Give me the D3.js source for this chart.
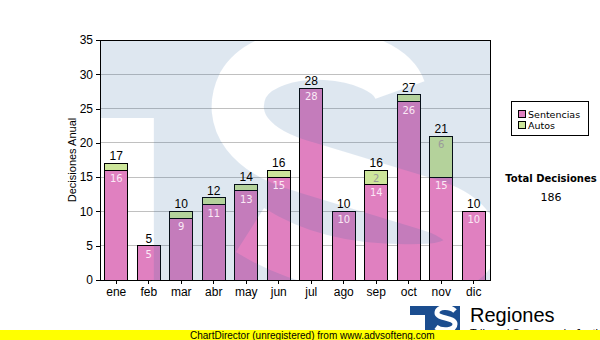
<!DOCTYPE html>
<html>
<head>
<meta charset="utf-8">
<script src="https://cdn.jsdelivr.net/npm/d3@7"></script>
<style>
  html, body { margin: 0; padding: 0; background: #fff; }
  svg { display: block; }
</style>
</head>
<body>
<svg id="chart" width="600" height="340"></svg>
<script>
// Monthly decisions, stacked: sentencias + autos
const months = ["ene", "feb", "mar", "abr", "may", "jun", "jul", "ago", "sep", "oct", "nov", "dic"];
const sentencias = [16, 5, 9, 11, 13, 15, 28, 10, 14, 26, 15, 10];
const autos = [1, 0, 1, 1, 1, 1, 0, 0, 2, 1, 6, 0];
const seriesNames = ["Sentencias", "Autos"];
const yTicks = [0, 5, 10, 15, 20, 25, 30, 35];

const colors = { Sentencias: "#e080c0", Autos: "#cde69a" };
const font = "'Liberation Sans', Arial, sans-serif";
const fontV = "'DejaVu Sans', Verdana, sans-serif";

const svg = d3.select("#chart");
const plot = { left: 100, top: 40, right: 490, bottom: 280 };
const pw = plot.right - plot.left, ph = plot.bottom - plot.top;

const x = d3.scaleBand().domain(months).range([plot.left, plot.right]).paddingInner(0.28).paddingOuter(0.14);
const y = d3.scaleLinear().domain([0, 35]).range([plot.bottom, plot.top]);

const rows = months.map((m, i) => ({ month: m, Sentencias: sentencias[i], Autos: autos[i] }));
const stacked = d3.stack().keys(seriesNames)(rows);
const totals = months.map((m, i) => sentencias[i] + autos[i]);

// plot background
svg.append("rect").attr("x", plot.left).attr("y", plot.top).attr("width", pw).attr("height", ph).attr("fill", "#fff");

// grid lines
svg.append("g").selectAll("line").data(yTicks.filter(t => t > 0)).join("line")
  .attr("x1", plot.left).attr("x2", plot.right)
  .attr("y1", d => y(d)).attr("y2", d => y(d))
  .attr("stroke", "#c0c0c0").attr("stroke-width", 1).attr("shape-rendering", "crispEdges");

// bars
const barG = svg.append("g");
stacked.forEach(layer => {
  barG.append("g").selectAll("rect").data(layer).join("rect")
    .attr("x", d => x(d.data.month))
    .attr("width", x.bandwidth())
    .attr("y", d => y(d[1]))
    .attr("height", d => y(d[0]) - y(d[1]))
    .attr("fill", colors[layer.key])
    .attr("stroke", "#000").attr("stroke-width", 1)
    .attr("shape-rendering", "crispEdges")
    .style("display", d => (d[1] - d[0]) > 0 ? null : "none");
});

// logo watermark over the plot area (translucent blue with the letters left clear)
const defs = svg.append("defs");
const mask = defs.append("mask").attr("id", "wm");
mask.append("rect").attr("x", plot.left).attr("y", plot.top).attr("width", pw).attr("height", ph).attr("fill", "#fff");
const wmG = mask.append("g").attr("transform", `translate(${plot.left},${plot.top})`);
wmG.append("rect").attr("x", 0).attr("y", ph * 0.325).attr("width", pw * 0.138).attr("height", ph).attr("fill", "#000");
wmG.append("path")
  .attr("d", "M300 50 C285 8,170 -2,143 45 C126 80,150 112,205 127 L330 165 C392 184,384 230,320 230 C262 232,200 222,150 190")
  .attr("fill", "none").attr("stroke", "#000").attr("stroke-width", 52);
svg.append("rect").attr("x", plot.left).attr("y", plot.top).attr("width", pw).attr("height", ph)
  .attr("fill", "#2a66a2").attr("opacity", 0.15).attr("mask", "url(#wm)");

// labels inside the segments
stacked.forEach(layer => {
  svg.append("g").selectAll("text").data(layer.filter(d => (y(d[0]) - y(d[1])) >= 12)).join("text")
    .attr("x", d => x(d.data.month) + x.bandwidth() / 2)
    .attr("y", d => y(d[1]) + 12)
    .attr("text-anchor", "middle")
    .attr("font-family", fontV).attr("font-size", 10)
    .attr("fill", layer.key === "Sentencias" ? "#fbeaf6" : "#9a9a9a")
    .text(d => d[1] - d[0]);
});

// totals above bars
svg.append("g").selectAll("text").data(months).join("text")
  .attr("x", m => x(m) + x.bandwidth() / 2)
  .attr("y", (m, i) => y(totals[i]) - 3)
  .attr("text-anchor", "middle")
  .attr("font-family", font).attr("font-size", 12).attr("fill", "#000")
  .text((m, i) => totals[i]);

// plot frame
svg.append("rect").attr("x", plot.left).attr("y", plot.top).attr("width", pw).attr("height", ph)
  .attr("fill", "none").attr("stroke", "#000").attr("stroke-width", 1).attr("shape-rendering", "crispEdges");

// axes
const yAxis = d3.axisLeft(y).tickValues(yTicks).tickSize(4).tickPadding(3);
const gy = svg.append("g").attr("transform", `translate(${plot.left},0)`).call(yAxis);
gy.selectAll("text").attr("font-family", font).attr("font-size", 12).attr("fill", "#000");
gy.selectAll("line,path").attr("stroke", "#000").attr("shape-rendering", "crispEdges");

const xAxis = d3.axisBottom(x).tickSize(4).tickPadding(3).tickSizeOuter(0);
const gx = svg.append("g").attr("transform", `translate(0,${plot.bottom})`).call(xAxis);
gx.selectAll("text").attr("font-family", font).attr("font-size", 12).attr("fill", "#000");
gx.selectAll("line,path").attr("stroke", "#000").attr("shape-rendering", "crispEdges");

// y axis title
svg.append("text")
  .attr("transform", `translate(76,${(plot.top + plot.bottom) / 2}) rotate(-90)`)
  .attr("text-anchor", "middle")
  .attr("font-family", font).attr("font-size", 11).attr("fill", "#000")
  .text("Decisiones Anual");

// legend
const lg = svg.append("g");
lg.append("rect").attr("x", 511.5).attr("y", 101.5).attr("width", 77).attr("height", 34)
  .attr("fill", "#fff").attr("stroke", "#000");
seriesNames.forEach((name, i) => {
  lg.append("rect").attr("x", 518.5).attr("y", 110.5 + i * 11).attr("width", 7).attr("height", 7)
    .attr("fill", colors[name]).attr("stroke", "#000");
  lg.append("text").attr("x", 528).attr("y", 118 + i * 11)
    .attr("font-family", fontV).attr("font-size", 9.5).attr("fill", "#000").text(name);
});

// overall total
svg.append("text").attr("x", 551).attr("y", 182).attr("text-anchor", "middle")
  .attr("font-family", fontV).attr("font-size", 10).attr("font-weight", "bold").attr("fill", "#000")
  .text("Total Decisiones");
svg.append("text").attr("x", 551).attr("y", 201).attr("text-anchor", "middle")
  .attr("font-family", fontV).attr("font-size", 11).attr("fill", "#000")
  .text(d3.sum(totals));

// footer logo
const logo = svg.append("g");
logo.append("rect").attr("x", 410).attr("y", 306).attr("width", 50).attr("height", 24).attr("fill", "#1b4d8f");
logo.append("rect").attr("x", 410).attr("y", 315).attr("width", 15).attr("height", 15).attr("fill", "#fff");
logo.append("path").attr("d", "M455 311 C450 306,437 306,437 313 C437 319,455 317,455 324 C455 331,441 331,436 327")
  .attr("fill", "none").attr("stroke", "#fff").attr("stroke-width", 5);
logo.append("text").attr("x", 470).attr("y", 322)
  .attr("font-family", font).attr("font-size", 20).attr("fill", "#000").text("Regiones");
defs.append("clipPath").attr("id", "sub").append("rect").attr("x", 460).attr("y", 300).attr("width", 140).attr("height", 30);
logo.append("text").attr("x", 470).attr("y", 337).attr("clip-path", "url(#sub)")
  .attr("font-family", font).attr("font-size", 11).attr("fill", "#000").text("Tribunal Supremo de Justicia");

// footer banner
svg.append("rect").attr("x", 0).attr("y", 330).attr("width", 600).attr("height", 10).attr("fill", "#ffff00");
svg.append("text").attr("x", 190).attr("y", 338.5)
  .attr("font-family", font).attr("font-size", 10).attr("fill", "#000")
  .text("ChartDirector (unregistered) from www.advsofteng.com");
</script>
</body>
</html>
